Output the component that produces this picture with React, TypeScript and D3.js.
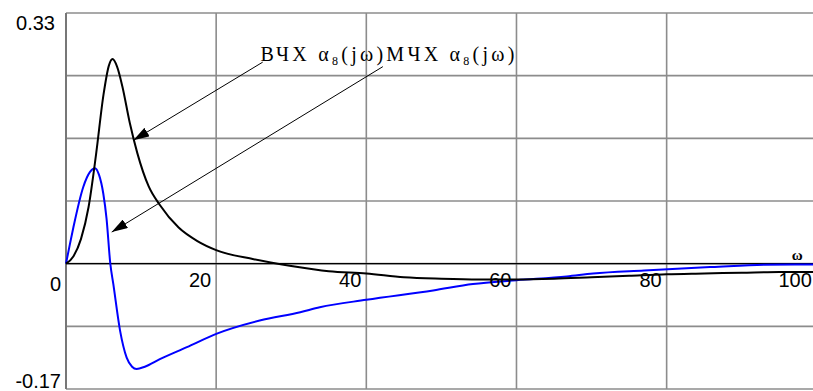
import React from "react";
import * as d3 from "d3";

// ВЧХ (real part) — black curve
const reOmega = [0, 1, 2, 3, 4, 5, 5.7, 6.2, 6.8, 7.5, 8.5, 9.5, 11, 12.5, 15, 17.5, 20, 25, 30, 35, 40, 45, 50, 55, 60, 65, 70, 75, 80, 85, 90, 95, 100];
const reValues = [0, 0.01, 0.033, 0.075, 0.145, 0.225, 0.263, 0.272, 0.262, 0.236, 0.187, 0.147, 0.103, 0.078, 0.048, 0.03, 0.018, 0.006, -0.003, -0.01, -0.013, -0.018, -0.02, -0.021, -0.021, -0.02, -0.018, -0.016, -0.014, -0.013, -0.012, -0.011, -0.011];

// МЧХ (imaginary part) — blue curve
const imOmega = [0, 0.5, 1, 2.3, 3.2, 3.86, 4.4, 4.97, 5.4, 5.9, 6.3, 7.2, 8.08, 8.8, 9.4, 10.5, 12.5, 16.1, 20.1, 25.8, 31.2, 33.8, 40, 48.9, 54.2, 60, 66.7, 70.2, 77, 86, 93, 100];
const imValues = [0, 0.025, 0.049, 0.102, 0.122, 0.127, 0.118, 0.093, 0.06, 0.0, -0.027, -0.089, -0.125, -0.137, -0.14, -0.137, -0.127, -0.111, -0.093, -0.0756, -0.0645, -0.058, -0.048, -0.0356, -0.027, -0.022, -0.017, -0.013, -0.009, -0.0045, -0.0013, -0.001];

const xTicks = [20, 40, 60, 80, 100];
const xGrid = [0, 20, 40, 60, 80, 100];
const yGrid = [-2 / 12, -1 / 12, 0, 1 / 12, 2 / 12, 3 / 12, 4 / 12];
const yLabels = ["0.33", "0", "-0.17"];
const yLabelValues = [1 / 3, 0, -1 / 6];

// annotation arrows in data space: [fromω, fromV, toω, toV]
const arrowFrom = [[26.2, 0.268], [42.2, 0.262]];
const arrowTo = [[8.97, 0.164], [6.09, 0.042]];
const annotationAnchor = [25.9, 0.27];

export default function App() {
  const W = 813, H = 391;
  const x = d3.scaleLinear().domain([0, 100]).range([66, 816.8]);
  const y = d3.scaleLinear().domain([-1 / 6, 1 / 3]).range([389, 13]);

  const line = d3
    .line<[number, number]>()
    .x((d) => x(d[0]))
    .y((d) => y(d[1]))
    .curve(d3.curveMonotoneX);

  const reData = reOmega.map((w, i) => [w, reValues[i]] as [number, number]);
  const imData = imOmega.map((w, i) => [w, imValues[i]] as [number, number]);

  const gridColor = "#8c8c8c";
  const yLabelDy = [17, 27, -1];

  return (
    <svg
      width={W}
      height={H}
      style={{ position: "absolute", left: 0, top: 0, background: "#fff" }}
    >
      <defs>
        <marker
          id="ah"
          viewBox="0 0 16 10"
          refX="16"
          refY="5"
          markerWidth="16"
          markerHeight="10"
          markerUnits="userSpaceOnUse"
          orient="auto"
        >
          <path d="M0,0 L16,5 L0,10 Z" fill="#000" />
        </marker>
      </defs>
      <rect x={0} y={0} width={W} height={H} fill="#fff" />
      {/* grid */}
      {xGrid.map((v) => (
        <line key={"gx" + v} x1={x(v)} x2={x(v)} y1={y(1 / 3)} y2={y(-1 / 6)} stroke={gridColor} strokeWidth={1.6} />
      ))}
      {yGrid.map((v, i) => (
        <line key={"gy" + i} x1={x(0)} x2={x(100)} y1={y(v)} y2={y(v)} stroke={gridColor} strokeWidth={1.6} />
      ))}
      <line x1={x(0)} x2={x(0)} y1={y(1 / 3)} y2={y(-1 / 6)} stroke="#777" strokeWidth={2} />
      {/* zero axis */}
      <line x1={x(0)} x2={x(100)} y1={y(0)} y2={y(0)} stroke="#000" strokeWidth={1.2} />

      {/* curves */}
      <path d={line(imData) || ""} fill="none" stroke="#0000ff" strokeWidth={2} />
      <path d={line(reData) || ""} fill="none" stroke="#000" strokeWidth={2} />

      {/* arrows */}
      {arrowFrom.map((f, i) => (
        <line
          key={"ar" + i}
          x1={x(f[0])}
          y1={y(f[1])}
          x2={x(arrowTo[i][0])}
          y2={y(arrowTo[i][1])}
          stroke="#000"
          strokeWidth={1}
          markerEnd="url(#ah)"
        />
      ))}

      {/* annotation text */}
      <text
        x={x(annotationAnchor[0])}
        y={y(annotationAnchor[1])}
        fontFamily="'Liberation Serif', 'DejaVu Serif', serif"
        fontSize={20}
        fill="#000"
        textLength={254}
        lengthAdjust="spacing"
      >
        <tspan>ВЧХ α</tspan>
        <tspan fontSize={12} dy={4}>8</tspan>
        <tspan dy={-4}>(jω)МЧХ α</tspan>
        <tspan fontSize={12} dy={4}>8</tspan>
        <tspan dy={-4}>(jω)</tspan>
      </text>

      {/* y labels */}
      {yLabels.map((t, i) => (
        <text
          key={"yl" + i}
          x={x(0) - (i === 0 ? 11 : 5)}
          y={y(yLabelValues[i]) + yLabelDy[i]}
          textAnchor="end"
          fontFamily="'Liberation Sans', Arial, sans-serif"
          fontSize={20}
          fill="#000"
        >
          {t}
        </text>
      ))}

      {/* x labels */}
      {xTicks.map((v) => (
        <text
          key={"xl" + v}
          x={x(v) - 5}
          y={y(0) + 23}
          textAnchor="end"
          fontFamily="'Liberation Sans', Arial, sans-serif"
          fontSize={20}
          fill="#000"
        >
          {v}
        </text>
      ))}

      {/* axis name */}
      <text
        x={x(100) - 25}
        y={y(0) - 4}
        fontFamily="'Liberation Serif', serif"
        fontWeight="bold"
        fontSize={15}
        fill="#000"
      >
        ω
      </text>
    </svg>
  );
}
